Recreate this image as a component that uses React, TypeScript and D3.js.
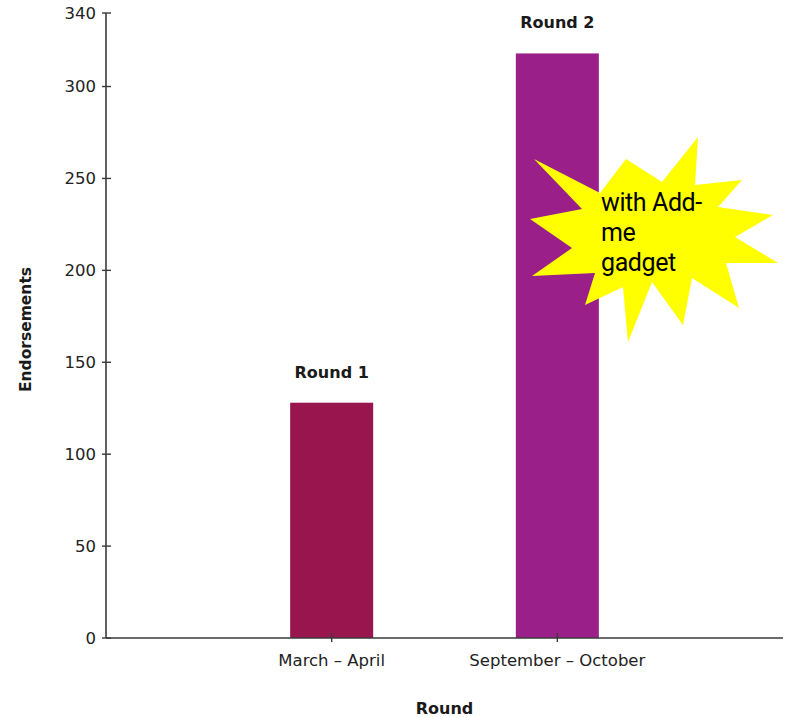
import React from "react";
import * as d3 from "d3";

const categories = ["March – April", "September – October"];
const roundLabels = ["Round 1", "Round 2"];
const values = [128, 318];
const barColors = ["#98154d", "#9a1f89"];
const yTicks = [0, 50, 100, 150, 200, 250, 300, 340];
const calloutLines = ["with Add-", "me", "gadget"];
// callout starburst outline (annotation shape)
const starPoints: [number, number][] = [
  [698, 137], [695, 185], [742, 180], [718, 207], [773, 215], [735, 237],
  [778, 263], [726, 263], [739, 308], [692, 278], [683, 325], [652, 282],
  [628, 342], [623, 287], [585, 305], [595, 273], [532, 276], [572, 248],
  [530, 219], [582, 209], [534, 159], [600, 193], [626, 159], [662, 182],
];

export default function App() {
  const W = 790, H = 718;
  const x0 = 106, x1 = 783, y0 = 638, y1 = 13;
  const x = d3.scalePoint<string>().domain(categories).range([x0, x1]).padding(1);
  const y = d3.scaleLinear().domain([0, 340]).range([y0, y1]);
  const barW = 83;
  const axisColor = "#3a3a3a";
  const font = "'DejaVu Sans', sans-serif";
  const line = d3.line();
  return (
    <svg width={W} height={H} style={{ position: "absolute", left: 0, top: 0, background: "#fff" }}>
      {/* bars */}
      {categories.map((c, i) => (
        <g key={c}>
          <rect x={(x(c) as number) - barW / 2} y={y(values[i])} width={barW} height={y0 - y(values[i])} fill={barColors[i]} />
          <text x={x(c)} y={y(values[i]) - 25} textAnchor="middle" fontFamily={font} fontWeight="bold" fontSize={16} fill="#1a1a1a">{roundLabels[i]}</text>
        </g>
      ))}
      {/* y axis */}
      <line x1={x0} x2={x0} y1={y1} y2={y0} stroke={axisColor} strokeWidth={1.6} />
      {yTicks.map((t) => (
        <g key={t}>
          <line x1={x0 - 4} x2={x0 + 5} y1={y(t)} y2={y(t)} stroke={axisColor} strokeWidth={1.4} />
          <text x={x0 - 10} y={y(t)} dy="0.35em" textAnchor="end" fontFamily={font} fontSize={16.5} fill="#222">{t}</text>
        </g>
      ))}
      {/* x axis */}
      <line x1={x0} x2={x1} y1={y0} y2={y0} stroke={axisColor} strokeWidth={1.6} />
      {categories.map((c) => (
        <g key={c}>
          <line x1={x(c)} x2={x(c)} y1={y0 - 5} y2={y0 + 4} stroke={axisColor} strokeWidth={1.4} />
          <text x={x(c)} y={y0 + 28} textAnchor="middle" fontFamily={font} fontSize={16.5} fill="#222">{c}</text>
        </g>
      ))}
      <text x={(x0 + x1) / 2} y={714} textAnchor="middle" fontFamily={font} fontWeight="bold" fontSize={16} fill="#1a1a1a">Round</text>
      <text transform={`translate(31,${(y0 + y1) / 2 + 4}) rotate(-90)`} textAnchor="middle" fontFamily={font} fontWeight="bold" fontSize={15.5} fill="#1a1a1a">Endorsements</text>
      {/* callout */}
      <path d={line(starPoints) + "Z"} fill="#ffff00" />
      {calloutLines.map((l, i) => (
        <text key={i} x={601} y={211 + i * 30} fontFamily="Roboto, sans-serif" fontSize={25} fill="#000" letterSpacing={-0.4}>{l}</text>
      ))}
    </svg>
  );
}
